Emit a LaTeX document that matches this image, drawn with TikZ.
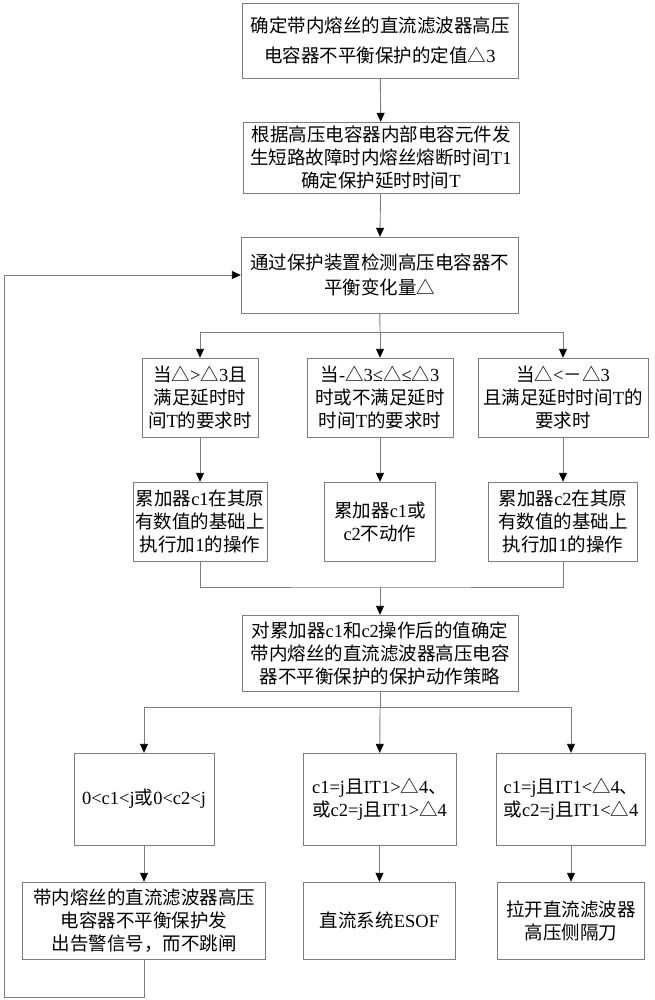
\documentclass[tikz,border=0pt]{standalone}
\usepackage{fontspec}
\setmainfont{Liberation Serif}
\newfontfamily\cjk{Noto Sans CJK SC}
\usetikzlibrary{arrows.meta}

% Chinese characters switch to the CJK font by themselves
\XeTeXinterchartokenstate=1
\newXeTeXintercharclass\hanclass
\newcount\hc
\hc="4E00 \loop\XeTeXcharclass\hc=\hanclass \ifnum\hc<"9FFF \advance\hc by 1 \repeat
\hc="3000 \loop\XeTeXcharclass\hc=\hanclass \ifnum\hc<"303F \advance\hc by 1 \repeat
\hc="FF00 \loop\XeTeXcharclass\hc=\hanclass \ifnum\hc<"FFEF \advance\hc by 1 \repeat
\XeTeXcharclass"25B3=\hanclass
\XeTeXinterchartoks 0 \hanclass = {\begingroup\cjk}
\XeTeXinterchartoks 4095 \hanclass = {\begingroup\cjk}
\XeTeXinterchartoks \hanclass 0 = {\endgroup}
\XeTeXinterchartoks \hanclass 4095 = {\endgroup}

\definecolor{edge}{RGB}{125,125,125}

\tikzset{
	box/.style={draw=edge, fill=white, align=center, inner sep=2pt,
		font=\fontsize{18.5}{23}\selectfont},
	line/.style={draw=edge, line width=0.9pt},
	arr/.style={line, -{Triangle[width=8pt,length=9pt,fill=black,color=black]}}
}

\begin{document}
\begin{tikzpicture}[x=1pt,y=-1pt]
	\useasboundingbox (0,0) rectangle (654,1000);

	% top chain
	\node[box, minimum width=276pt, minimum height=75pt, font=\fontsize{18.5}{30}\selectfont] (fix) at (380,40.5) {确定带内熔丝的直流滤波器高压\\电容器不平衡保护的定值△3};
	\node[box, minimum width=276pt, minimum height=71pt] (delay) at (381,157.5) {根据高压电容器内部电容元件发\\生短路故障时内熔丝熔断时间T1\\确定保护延时时间T};
	\node[box, minimum width=277pt, minimum height=76pt, font=\fontsize{18.5}{25}\selectfont] (detect) at (379.5,275) {通过保护装置检测高压电容器不\\平衡变化量△};

	% conditions
	\node[box, minimum width=116pt, minimum height=79pt] (gt) at (200,397.5) {当△>△3且\\满足延时时\\间T的要求时};
	\node[box, minimum width=146pt, minimum height=79pt] (mid) at (380,397.5) {当-△3≤△≤△3\\时或不满足延时\\时间T的要求时};
	\node[box, minimum width=170pt, minimum height=79pt] (lt) at (563,397.5) {当△<－△3\\且满足延时时间T的\\要求时};

	% accumulators
	\node[box, minimum width=133pt, minimum height=79pt] (addA) at (200,521.5) {累加器c1在其原\\有数值的基础上\\执行加1的操作};
	\node[box, minimum width=111pt, minimum height=79pt] (hold) at (380,521.5) {累加器c1或\\c2不动作};
	\node[box, minimum width=149pt, minimum height=79pt] (addB) at (563,521.5) {累加器c2在其原\\有数值的基础上\\执行加1的操作};

	\node[box, minimum width=276pt, minimum height=76pt] (policy) at (380,653) {对累加器c1和c2操作后的值确定\\带内熔丝的直流滤波器高压电容\\器不平衡保护的保护动作策略};

	% strategy
	\node[box, minimum width=140pt, minimum height=92pt] (condA) at (144,799) {0<c1<j或0<c2<j};
	\node[box, minimum width=153pt, minimum height=92pt, align=left] (condB) at (379.5,799) {c1=j且IT1>△4、\\或c2=j且IT1>△4};
	\node[box, minimum width=149pt, minimum height=92pt, align=left] (condC) at (571,799) {c1=j且IT1<△4、\\或c2=j且IT1<△4};

	\node[box, minimum width=243pt, minimum height=77pt] (warn) at (144,920.5) {带内熔丝的直流滤波器高压\\电容器不平衡保护发\\出告警信号，而不跳闸};
	\node[box, minimum width=152pt, minimum height=77pt] (esof) at (379.5,920.5) {直流系统ESOF};
	\node[box, minimum width=147pt, minimum height=77pt] (open) at (571,920.5) {拉开直流滤波器\\高压侧隔刀};

	\coordinate (split1) at (380,332);
	\coordinate (merge) at (380,587);
	\coordinate (split2) at (380,707);
	\coordinate (back) at (4,997);

	\draw[arr] (fix) -- (delay);
	\draw[arr] (delay) -- (detect);
	\draw[line] (detect) -- (split1);
	\draw[arr] (split1) -| (gt);
	\draw[arr] (split1) -- (mid);
	\draw[arr] (split1) -| (lt);
	\draw[arr] (gt) -- (addA);
	\draw[arr] (mid) -- (hold);
	\draw[arr] (lt) -- (addB);
	\draw[line] (addA) |- (merge) -| (addB);
	\draw[arr] (merge) -- (policy);
	\draw[line] (policy) -- (split2);
	\draw[arr] (split2) -| (condA);
	\draw[arr] (split2) -- (condB);
	\draw[arr] (split2) -| (condC);
	\draw[arr] (condA) -- (warn);
	\draw[arr] (condB) -- (esof);
	\draw[arr] (condC) -- (open);
	\draw[arr] (warn) |- (back) |- (detect);
\end{tikzpicture}
\end{document}
